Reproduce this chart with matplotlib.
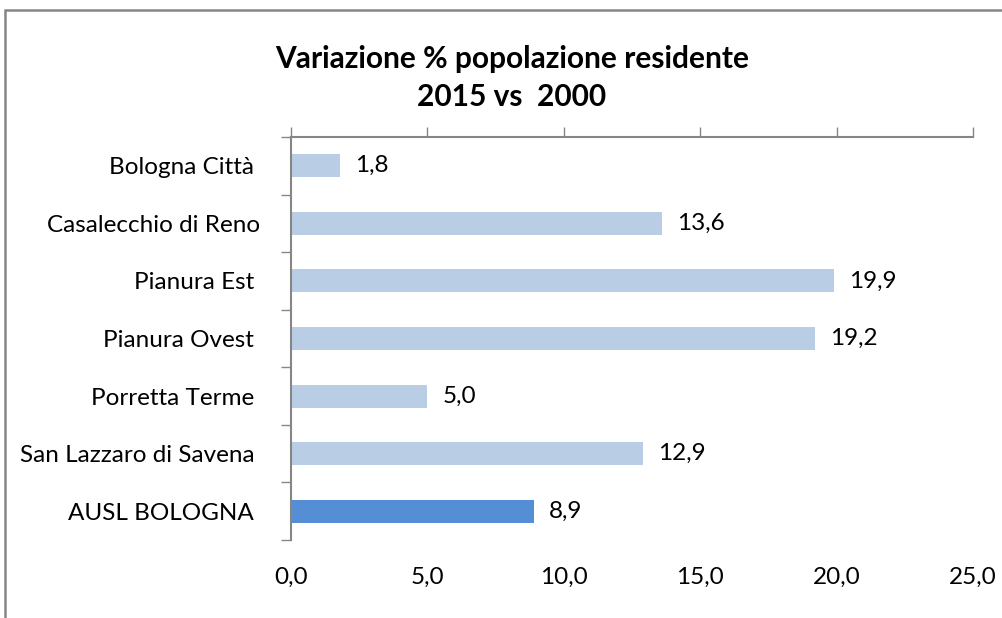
import matplotlib
matplotlib.use("Agg")
import matplotlib.pyplot as plt
from matplotlib.patches import Rectangle
from matplotlib.ticker import FuncFormatter

# dati
categorie = ["Bologna Città ", "Casalecchio di Reno", "Pianura Est ", "Pianura Ovest ",
             "Porretta Terme ", "San Lazzaro di Savena ", "AUSL BOLOGNA "]
valori = [1.8, 13.6, 19.9, 19.2, 5.0, 12.9, 8.9]
colori = ["#B9CDE5"] * 6 + ["#558ED5"]
xticks = [0, 5, 10, 15, 20, 25]

plt.rcParams["font.family"] = ["Lato", "DejaVu Sans"]

fig = plt.figure(figsize=(10.02, 6.18), dpi=100)
ax = fig.add_axes([0.2904, 0.1262, 0.6806, 0.6521])

# cornice del grafico
fig.patches.append(Rectangle((0.005, -0.05), 1.2, 0.9838 + 0.05, transform=fig.transFigure,
                             fill=False, edgecolor="#868686", linewidth=1.8))

pos = list(range(len(categorie)))
ax.barh(pos, valori, height=0.4, color=colori)
ax.set_ylim(len(categorie) - 0.5, -0.5)
ax.set_xlim(0, 25)

for p, v in zip(pos, valori):
    ax.text(v + 0.55, p, f"{v:.1f}".replace(".", ","), va="center", ha="left",
            fontsize=17.5, color="#000000")

ax.set_xticks(xticks)
ax.xaxis.set_major_formatter(FuncFormatter(lambda x, _: f"{x:.1f}".replace(".", ",")))
ax.tick_params(axis="x", top=True, bottom=False, labeltop=False, labelbottom=True,
               direction="out", length=7, width=1, color="#868686", labelsize=17.5, pad=12)

ax.set_yticks(pos)
ax.set_yticklabels(categorie)
ax.set_yticks([p + 0.5 for p in [-1] + pos], minor=True)
ax.tick_params(axis="y", which="major", length=0, labelsize=17.5, pad=22)
ax.tick_params(axis="y", which="minor", length=7, width=1, color="#868686", direction="out")

for s in ["right", "bottom"]:
    ax.spines[s].set_visible(False)
for s in ["left", "top"]:
    ax.spines[s].set_color("#868686")
    ax.spines[s].set_linewidth(1.5)

fig.text(0.511, 0.905, "Variazione % popolazione residente", ha="center", va="center",
         fontsize=21.5, fontweight="bold")
fig.text(0.511, 0.843, "2015 vs  2000", ha="center", va="center",
         fontsize=21.5, fontweight="bold")

fig.savefig("out.png", dpi=100)
